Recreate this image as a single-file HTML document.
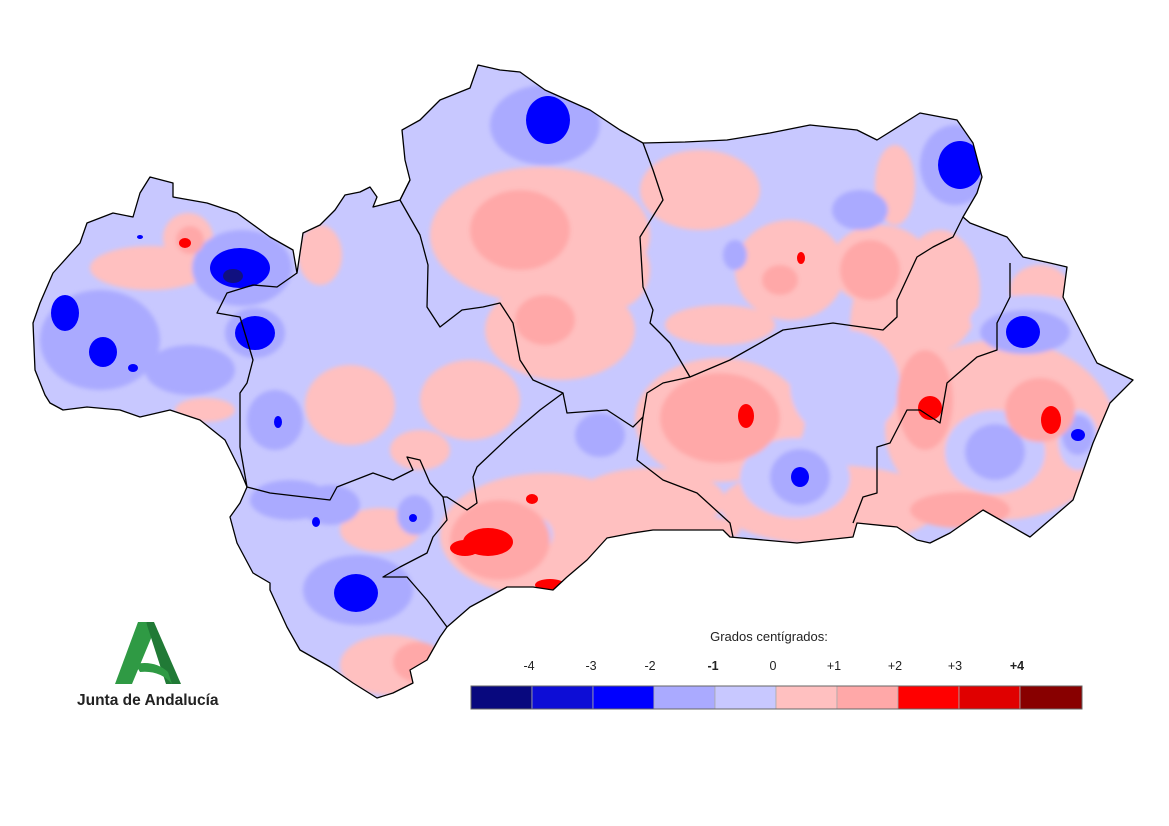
<!DOCTYPE html>
<html><head><meta charset="utf-8"><style>
html,body{margin:0;padding:0;background:#fff;}
svg{display:block;}
text{font-family:"Liberation Sans",sans-serif;}
</style></head><body>
<svg width="1169" height="826" viewBox="0 0 1169 826" xmlns="http://www.w3.org/2000/svg">
<defs>
<clipPath id="cl"><path id="outline" d="M33,323 L40,303 53,273 80,243 87,223 113,213 133,217 140,193 150,177 173,183 173,197 207,203 237,213 270,237 293,250 297,273 303,233 320,225 335,210 345,195 360,192 370,187 377,197 373,207 400,200 410,180 405,160 402,130 420,120 440,100 470,88 478,65 500,70 520,72 545,90 590,110 620,130 643,143 685,142 727,140 770,133 810,125 857,130 877,140 920,113 957,120 973,143 982,177 977,193 963,217 970,223 1007,237 1023,257 1050,263 1067,267 1063,297 1097,363 1133,380 1110,403 1093,443 1073,500 1030,537 983,510 950,533 930,543 917,540 897,527 857,523 853,537 797,543 730,537 723,530 687,530 653,530 633,533 607,538 587,560 567,577 553,590 533,587 507,587 470,607 447,627 440,637 427,660 410,670 413,683 393,693 377,698 353,683 330,667 300,650 287,627 270,590 270,583 253,573 237,543 230,517 240,503 247,487 240,470 225,440 200,420 170,410 140,417 120,410 87,407 63,410 50,403 45,395 35,370 Z"/></clipPath>
<filter id="bl" x="-10%" y="-10%" width="120%" height="120%"><feGaussianBlur stdDeviation="2"/></filter>
</defs>
<g clip-path="url(#cl)">
<rect x="0" y="0" width="1169" height="826" fill="#c8c8ff"/>
<g filter="url(#bl)">
<g fill="#ffc0c0">
<ellipse cx="150" cy="268" rx="60" ry="22"/><ellipse cx="188" cy="238" rx="25" ry="25"/>
<ellipse cx="540" cy="235" rx="110" ry="68"/><ellipse cx="560" cy="330" rx="75" ry="50"/>
<ellipse cx="350" cy="405" rx="45" ry="40"/><ellipse cx="320" cy="255" rx="22" ry="30"/>
<ellipse cx="470" cy="400" rx="50" ry="40"/><ellipse cx="420" cy="450" rx="30" ry="20"/>
<ellipse cx="700" cy="190" rx="60" ry="40"/><ellipse cx="790" cy="270" rx="55" ry="50"/>
<ellipse cx="880" cy="265" rx="50" ry="40"/><ellipse cx="895" cy="185" rx="20" ry="40"/>
<ellipse cx="720" cy="325" rx="55" ry="20"/><ellipse cx="610" cy="270" rx="40" ry="40"/>
<ellipse cx="720" cy="420" rx="85" ry="62"/><ellipse cx="900" cy="330" rx="50" ry="85"/>
<ellipse cx="830" cy="505" rx="110" ry="40"/><ellipse cx="1000" cy="430" rx="115" ry="90"/>
<ellipse cx="1040" cy="290" rx="30" ry="25"/><ellipse cx="940" cy="290" rx="40" ry="60"/>
<ellipse cx="545" cy="535" rx="105" ry="62"/><ellipse cx="650" cy="500" rx="75" ry="32"/>
<ellipse cx="390" cy="665" rx="50" ry="30"/><ellipse cx="380" cy="530" rx="40" ry="22"/>
<ellipse cx="205" cy="410" rx="30" ry="12"/><ellipse cx="690" cy="530" rx="50" ry="15"/>
</g>
<g fill="#c8c8ff">
<ellipse cx="845" cy="385" rx="55" ry="55"/><ellipse cx="795" cy="478" rx="55" ry="40"/>
<ellipse cx="995" cy="452" rx="50" ry="42"/><ellipse cx="535" cy="535" rx="18" ry="18"/>
<ellipse cx="1078" cy="440" rx="20" ry="30"/><ellipse cx="1030" cy="320" rx="60" ry="25"/>
</g>
<g fill="#aaaaff">
<ellipse cx="100" cy="340" rx="60" ry="50"/><ellipse cx="190" cy="370" rx="45" ry="25"/>
<ellipse cx="242" cy="268" rx="50" ry="38"/><ellipse cx="255" cy="333" rx="30" ry="25"/>
<ellipse cx="275" cy="420" rx="28" ry="30"/><ellipse cx="545" cy="125" rx="55" ry="40"/>
<ellipse cx="955" cy="165" rx="35" ry="40"/><ellipse cx="1025" cy="332" rx="45" ry="22"/>
<ellipse cx="800" cy="477" rx="30" ry="28"/><ellipse cx="995" cy="452" rx="30" ry="28"/>
<ellipse cx="358" cy="590" rx="55" ry="35"/><ellipse cx="415" cy="515" rx="18" ry="20"/>
<ellipse cx="290" cy="500" rx="40" ry="20"/><ellipse cx="860" cy="210" rx="28" ry="20"/>
<ellipse cx="735" cy="255" rx="12" ry="15"/><ellipse cx="600" cy="435" rx="25" ry="22"/>
<ellipse cx="1078" cy="435" rx="16" ry="20"/><ellipse cx="200" cy="605" rx="10" ry="10"/>
<ellipse cx="330" cy="505" rx="30" ry="20"/>
</g>
<g fill="#ffa8a8">
<ellipse cx="520" cy="230" rx="50" ry="40"/><ellipse cx="545" cy="320" rx="30" ry="25"/>
<ellipse cx="720" cy="418" rx="60" ry="45"/><ellipse cx="925" cy="400" rx="28" ry="50"/>
<ellipse cx="1040" cy="410" rx="35" ry="32"/><ellipse cx="500" cy="540" rx="50" ry="40"/>
<ellipse cx="418" cy="662" rx="25" ry="20"/><ellipse cx="960" cy="510" rx="50" ry="18"/>
<ellipse cx="780" cy="280" rx="18" ry="15"/><ellipse cx="870" cy="270" rx="30" ry="30"/>
<ellipse cx="190" cy="240" rx="14" ry="14"/>
</g>
</g>
<g fill="#0000ff">
<ellipse cx="548" cy="120" rx="22" ry="24"/><ellipse cx="960" cy="165" rx="22" ry="24"/>
<ellipse cx="240" cy="268" rx="30" ry="20"/><ellipse cx="255" cy="333" rx="20" ry="17"/>
<ellipse cx="65" cy="313" rx="14" ry="18"/><ellipse cx="103" cy="352" rx="14" ry="15"/>
<ellipse cx="1023" cy="332" rx="17" ry="16"/><ellipse cx="356" cy="593" rx="22" ry="19"/>
<ellipse cx="800" cy="477" rx="9" ry="10"/><ellipse cx="1078" cy="435" rx="7" ry="6"/>
<ellipse cx="278" cy="422" rx="4" ry="6"/><ellipse cx="133" cy="368" rx="5" ry="4"/>
<ellipse cx="316" cy="522" rx="4" ry="5"/><ellipse cx="413" cy="518" rx="4" ry="4"/>
<ellipse cx="140" cy="237" rx="3" ry="2"/>
</g>
<ellipse cx="233" cy="276" rx="10" ry="7" fill="#101080"/>
<g fill="#ff0000">
<ellipse cx="746" cy="416" rx="8" ry="12"/><ellipse cx="930" cy="408" rx="12" ry="12"/>
<ellipse cx="1051" cy="420" rx="10" ry="14"/><ellipse cx="488" cy="542" rx="25" ry="14"/>
<ellipse cx="465" cy="548" rx="15" ry="8"/><ellipse cx="550" cy="585" rx="15" ry="6"/>
<ellipse cx="185" cy="243" rx="6" ry="5"/><ellipse cx="801" cy="258" rx="4" ry="6"/>
<ellipse cx="532" cy="499" rx="6" ry="5"/>
</g>
</g>
<g fill="none" stroke="#000" stroke-width="1.3" stroke-linejoin="round">
<use href="#outline"/>
<polyline points="297,273 277,287 253,285 227,293 217,313 240,317 253,360 247,383 240,393 240,447 247,487"/>
<polyline points="410,180 400,200 420,235 428,265 427,307 440,327 462,310 483,307 500,303 513,323 520,360 533,380 563,393 567,413 607,410 633,427 643,417"/>
<polyline points="643,143 653,170 663,200 640,237 643,287 653,310 650,323 670,343 690,377 730,360 783,330 833,323 883,330 897,317 897,300 917,257 933,247 953,237 963,217"/>
<polyline points="690,377 663,383 647,393 643,417 637,460 663,480 697,493 730,523 733,537"/>
<polyline points="1010,263 1010,297 997,323 997,350 977,357 947,383 940,423 920,410 907,410 890,443 877,447 877,493 863,497 853,523"/>
<polyline points="563,393 540,410 513,433 477,467 473,477 477,503 467,510 447,497 443,497"/>
<polyline points="247,487 270,493 330,500 337,487 373,473 393,480 413,470 407,457 420,460 430,483 443,497 447,520 433,537 427,553 400,567 383,577 407,577 427,600 447,627"/>
</g>
<polygon points="115,684 132,684 152,636 146,622 138,622" fill="#2f9a44"/>
<polygon points="146,622 154,622 181,684 166,684" fill="#217a36"/>
<path d="M135,664 Q155,660 168,672 L172,684 Q160,670 140,672 Z" fill="#2f9a44"/>
<text x="77" y="705" font-size="15.5" font-weight="bold" fill="#222">Junta de Andalucía</text>
<text x="769" y="641" font-size="13" text-anchor="middle" fill="#222">Grados centígrados:</text>
<g font-size="12.5" text-anchor="middle" fill="#222">
<text x="529" y="670">-4</text><text x="591" y="670">-3</text><text x="650" y="670">-2</text>
<text x="713" y="670" font-weight="bold">-1</text><text x="773" y="670">0</text><text x="834" y="670">+1</text>
<text x="895" y="670">+2</text><text x="955" y="670">+3</text><text x="1017" y="670" font-weight="bold">+4</text>
</g>
<g stroke="#aaa" stroke-width="0.8">
<rect x="471" y="686" width="61" height="23" fill="#08087e"/>
<rect x="532" y="686" width="61" height="23" fill="#0d0dd6"/>
<rect x="593" y="686" width="61" height="23" fill="#0000ff"/>
<rect x="654" y="686" width="61" height="23" fill="#aaaaff"/>
<rect x="715" y="686" width="61" height="23" fill="#c8c8ff"/>
<rect x="776" y="686" width="61" height="23" fill="#ffc0c0"/>
<rect x="837" y="686" width="61" height="23" fill="#ffa8a8"/>
<rect x="898" y="686" width="61" height="23" fill="#ff0000"/>
<rect x="959" y="686" width="61" height="23" fill="#e00000"/>
<rect x="1020" y="686" width="62" height="23" fill="#880000"/>
</g>
<rect x="471" y="686" width="611" height="23" fill="none" stroke="#666" stroke-width="1"/>
</svg>
</body></html>
